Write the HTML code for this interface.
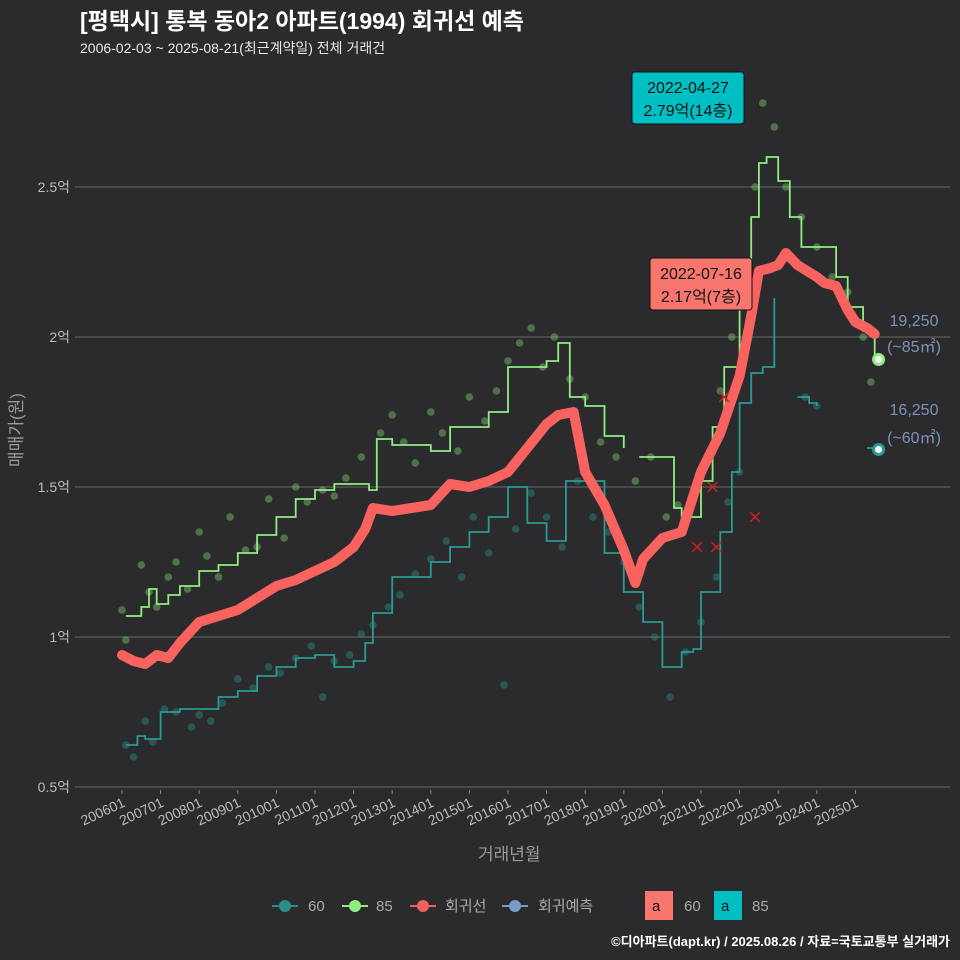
<!DOCTYPE html>
<html><head><meta charset="utf-8">
<style>
body{margin:0;background:#2b2b2d;}
svg{display:block;font-family:"Liberation Sans","Noto Sans CJK KR",sans-serif;}
</style></head>
<body>
<svg id="chart" width="960" height="960" viewBox="0 0 960 960" xmlns="http://www.w3.org/2000/svg">
<rect x="0" y="0" width="960" height="960" fill="#2b2b2d"/>
<text x="80" y="29" fill="#ffffff" font-size="23" font-weight="bold">[평택시] 통복 동아2 아파트(1994) 회귀선 예측</text>
<text x="80" y="53" fill="#e8e8e8" font-size="14">2006-02-03 ~ 2025-08-21(최근계약일) 전체 거래건</text>
<g id="grid"></g>
<g id="marks"></g>
<text x="478" y="860" fill="#9a9a9a" font-size="17">거래년월</text>
<text transform="translate(22,430) rotate(-90)" text-anchor="middle" fill="#9a9a9a" font-size="17">매매가(원)</text>
<g font-size="15" fill="#aaaaaa">
 <g><line x1="272" y1="906" x2="298" y2="906" stroke="#2a8f8a" stroke-width="2"/><circle cx="285" cy="906" r="6" fill="#2a8f8a"/><text x="308" y="911">60</text></g>
 <g><line x1="342" y1="906" x2="368" y2="906" stroke="#90ee80" stroke-width="2"/><circle cx="355" cy="906" r="6" fill="#90ee80"/><text x="376" y="911">85</text></g>
 <g><line x1="410" y1="906" x2="436" y2="906" stroke="#f0605e" stroke-width="2"/><circle cx="423" cy="906" r="6" fill="#f0605e"/><text x="445" y="911">회귀선</text></g>
 <g><line x1="502" y1="906" x2="528" y2="906" stroke="#7a9cc6" stroke-width="2"/><circle cx="515" cy="906" r="6" fill="#7a9cc6"/><text x="538" y="911">회귀예측</text></g>
 <g><rect x="645" y="891" width="28" height="29" fill="#f8766d"/><text x="652" y="911" fill="#111">a</text><text x="684" y="911">60</text></g>
 <g><rect x="714" y="891" width="28" height="29" fill="#00bfc4"/><text x="721" y="911" fill="#111">a</text><text x="752" y="911">85</text></g>
</g>
<text x="950" y="946" text-anchor="end" fill="#ffffff" font-size="13" font-weight="bold">©디아파트(dapt.kr) / 2025.08.26 / 자료=국토교통부 실거래가</text>
</svg>
<script>
// ---- data ----
const yTicks=[0.5,1,1.5,2,2.5];
const yTickLabels=["0.5억","1억","1.5억","2억","2.5억"];
const xTickYears=[2006,2007,2008,2009,2010,2011,2012,2013,2014,2015,2016,2017,2018,2019,2020,2021,2022,2023,2024,2025];
const xTickLabels=["200601","200701","200801","200901","201001","201101","201201","201301","201401","201501","201601","201701","201801","201901","202001","202101","202201","202301","202401","202501"];
const regT=[2006,2006.3,2006.6,2006.9,2007.2,2007.5,2008,2008.5,2009,2009.5,2010,2010.5,2011,2011.5,2012,2012.3,2012.5,2013,2013.5,2014,2014.5,2015,2015.5,2016,2016.5,2017,2017.3,2017.7,2018,2018.5,2019,2019.3,2019.5,2020,2020.5,2021,2021.5,2022,2022.3,2022.5,2022.8,2023,2023.2,2023.5,2024,2024.2,2024.5,2024.8,2025,2025.3,2025.5];
const regV=[0.94,0.92,0.91,0.94,0.93,0.98,1.05,1.07,1.09,1.13,1.17,1.19,1.22,1.25,1.30,1.36,1.43,1.42,1.43,1.44,1.51,1.50,1.52,1.55,1.63,1.71,1.74,1.75,1.55,1.44,1.29,1.18,1.26,1.33,1.35,1.55,1.68,1.87,2.07,2.22,2.23,2.24,2.28,2.24,2.20,2.18,2.17,2.09,2.05,2.03,2.01];
const g85T=[2006.1,2006.5,2006.7,2006.9,2007.2,2007.5,2008,2008.5,2009,2009.5,2010,2010.5,2011,2011.5,2012.0,2012.4,2012.6,2013,2013.5,2014,2014.5,2015,2015.5,2016,2016.5,2017,2017.3,2017.6,2018,2018.5,2019,null,2019.4,2019.9,2020.3,2020.5,2021,2021.3,2021.6,2022,2022.3,2022.5,2022.7,2023,2023.3,2023.6,2024.2,2024.5,2024.8,2025.2,2025.4,2025.5];
const g85V=[1.07,1.10,1.16,1.11,1.14,1.17,1.22,1.24,1.28,1.34,1.40,1.46,1.49,1.51,1.51,1.49,1.66,1.64,1.64,1.62,1.70,1.70,1.75,1.90,1.90,1.92,1.98,1.80,1.77,1.67,1.63,null,1.60,1.60,1.43,1.40,1.52,1.70,1.90,2.15,2.40,2.58,2.60,2.52,2.40,2.30,2.30,2.20,2.10,2.02,2.02,1.93];
const g60T=[2006.1,2006.4,2006.6,2007.0,2007.5,2008,2008.5,2009,2009.5,2010,2010.5,2011,2011.5,2012,2012.3,2012.5,2013,2013.5,2014,2014.5,2015,2015.5,2016,2016.5,2017,2017.5,2018,2018.5,2019,2019.5,2020,2020.5,2020.8,2021,2021.5,2021.8,2022,2022.3,2022.6,2022.9,null,2023.5,2023.8,2024,null,2025.3,2025.5];
const g60V=[0.64,0.67,0.66,0.75,0.76,0.76,0.80,0.82,0.87,0.90,0.93,0.94,0.90,0.92,0.98,1.08,1.20,1.20,1.25,1.30,1.35,1.40,1.50,1.38,1.32,1.52,1.52,1.28,1.15,1.05,0.90,0.95,0.96,1.15,1.35,1.55,1.78,1.88,1.90,2.13,null,1.80,1.78,1.77,null,1.63,1.63];
const d85T=[2006.0,2006.1,2006.5,2006.7,2006.9,2007.2,2007.4,2007.7,2008.0,2008.2,2008.5,2008.8,2009.2,2009.5,2009.8,2010.2,2010.5,2010.8,2011.2,2011.5,2011.8,2012.2,2012.7,2013.0,2013.3,2013.6,2014.0,2014.3,2014.7,2015.0,2015.4,2015.7,2016.0,2016.3,2016.6,2016.9,2017.2,2017.6,2018.0,2018.4,2018.8,2019.3,2019.7,2020.1,2020.4,2020.8,2021.2,2021.5,2021.8,2022.1,2022.4,2022.6,2022.9,2023.2,2023.6,2024.0,2024.4,2024.8,2025.2,2025.4];
const d85V=[1.09,0.99,1.24,1.15,1.10,1.20,1.25,1.16,1.35,1.27,1.20,1.40,1.29,1.30,1.46,1.33,1.50,1.45,1.49,1.47,1.53,1.60,1.68,1.74,1.65,1.58,1.75,1.68,1.62,1.80,1.72,1.82,1.92,1.98,2.03,1.90,2.00,1.86,1.80,1.65,1.60,1.52,1.60,1.40,1.44,1.48,1.60,1.82,2.00,2.20,2.50,2.78,2.70,2.50,2.40,2.30,2.20,2.15,2.00,1.85];
const d60T=[2006.1,2006.3,2006.6,2006.8,2007.1,2007.4,2007.8,2008.0,2008.3,2008.6,2009.0,2009.4,2009.8,2010.1,2010.5,2010.9,2011.2,2011.5,2011.9,2012.2,2012.5,2012.9,2013.2,2013.6,2014.0,2014.4,2014.8,2015.1,2015.5,2015.9,2016.2,2016.6,2017.0,2017.4,2017.8,2018.2,2018.6,2019.0,2019.4,2019.8,2020.2,2020.6,2021.0,2021.4,2021.7,2022.0,2023.7,2024.0];
const d60V=[0.64,0.60,0.72,0.65,0.76,0.75,0.70,0.74,0.72,0.78,0.86,0.83,0.90,0.88,0.93,0.97,0.80,0.92,0.94,1.01,1.04,1.10,1.14,1.21,1.26,1.32,1.20,1.40,1.28,0.84,1.36,1.48,1.40,1.30,1.52,1.40,1.35,1.25,1.10,1.00,0.80,0.95,1.05,1.20,1.45,1.55,1.80,1.77];
const xMarkT=[2021.6,2021.3,2020.9,2021.4,2022.4];
const xMarkV=[1.80,1.50,1.30,1.30,1.40];

// ---- scales ----
const X=t=>122+(t-2006)*38.6;
const Y=v=>787-(v-0.5)*300;
const NS="http://www.w3.org/2000/svg";
function mk(tag,attrs,parent){const e=document.createElementNS(NS,tag);for(const k in attrs)e.setAttribute(k,attrs[k]);parent.appendChild(e);return e;}
const grid=document.getElementById('grid'),marks=document.getElementById('marks');

yTicks.forEach((v,i)=>{
  const l=mk('line',{x1:75,x2:950,y1:Y(v),y2:Y(v),stroke:'#6a6a6a','stroke-width':1},grid);
  
  
  const t=mk('text',{x:70,y:Y(v)+5,'text-anchor':'end',fill:'#bbbbbb','font-size':14},grid);
  t.textContent=yTickLabels[i];
  
  
});
xTickYears.forEach((yr,i)=>{
  const x=X(yr);
  const tk=mk('line',{x1:x,x2:x,y1:790,y2:794,stroke:'#888'},grid);
  
  
  const t=mk('text',{x:x+4,y:806,'text-anchor':'end',fill:'#bbbbbb','font-size':14,transform:`rotate(-25 ${x+4} 806)`},grid);
  t.textContent=xTickLabels[i];
  
  
});

function dots(T,V,col,name){
  T.forEach((t,i)=>{const c=mk('circle',{cx:X(t),cy:Y(V[i]),r:3.8,fill:col,opacity:0.45},marks);
    
    });
}
dots(d85T,d85V,'#7fc96e','dot-85');
dots(d60T,d60V,'#2a8f8a','dot-60');

function path(T,V){let d='',pen=false;T.forEach((t,i)=>{if(t===null){pen=false;return;}d+=(pen?'L':'M')+X(t).toFixed(1)+','+Y(V[i]).toFixed(1);pen=true;});return d;}
function stepPath(T,V){let d='',pen=false,py=0;T.forEach((t,i)=>{if(t===null){pen=false;return;}const x=X(t).toFixed(1),y=Y(V[i]).toFixed(1);if(pen)d+='L'+x+','+py+'L'+x+','+y;else d+='M'+x+','+y;py=y;pen=true;});return d;}
const p60=mk('path',{d:stepPath(g60T,g60V),fill:'none',stroke:'#2a9a94','stroke-width':1.8},marks);


const p85=mk('path',{d:stepPath(g85T,g85V),fill:'none',stroke:'#90ee80','stroke-width':1.8},marks);


const pr=mk('path',{d:path(regT,regV),fill:'none',stroke:'#f8625f','stroke-width':10,'stroke-linejoin':'round','stroke-linecap':'round'},marks);



xMarkT.forEach((t,i)=>{const x=X(t),y=Y(xMarkV[i]);
  const g=mk('path',{d:`M${x-5},${y-5}L${x+5},${y+5}M${x-5},${y+5}L${x+5},${y-5}`,stroke:'#d42020','stroke-width':1.5},marks);
  
  });

// end points
const e85=mk('circle',{cx:X(2025.6),cy:Y(1.925),r:5,fill:'#fff',stroke:'#90ee80','stroke-width':3},marks);


const e60=mk('circle',{cx:X(2025.6),cy:Y(1.625),r:5,fill:'#fff',stroke:'#2a9a94','stroke-width':3},marks);



function lbl(x,y,s,name){const t=mk('text',{x:x,y:y,'text-anchor':'middle',fill:'#7d92b8','font-size':16},marks);t.textContent=s;
  
  }
lbl(914,326,'19,250','forecast-value-85');
lbl(914,352,'(~85㎡)','forecast-area-85');
lbl(914,415,'16,250','forecast-value-60');
lbl(914,443,'(~60㎡)','forecast-area-60');

function box(x,y,w,h,col,l1,l2,name){const g=mk('g',{},marks);
  
  
  mk('rect',{x:x,y:y,width:w,height:h,rx:3,fill:col,stroke:'#111','stroke-width':1},g);
  const a=mk('text',{x:x+w/2,y:y+21,'text-anchor':'middle',fill:'#111','font-size':16},g);a.textContent=l1;
  const b=mk('text',{x:x+w/2,y:y+44,'text-anchor':'middle',fill:'#111','font-size':16},g);b.textContent=l2;}
box(632,72,112,52,'#00bfc4','2022-04-27','2.79억(14층)','max-annotation-85');
box(650,258,102,52,'#f8766d','2022-07-16','2.17억(7층)','max-annotation-60');
</script>
</body></html>
